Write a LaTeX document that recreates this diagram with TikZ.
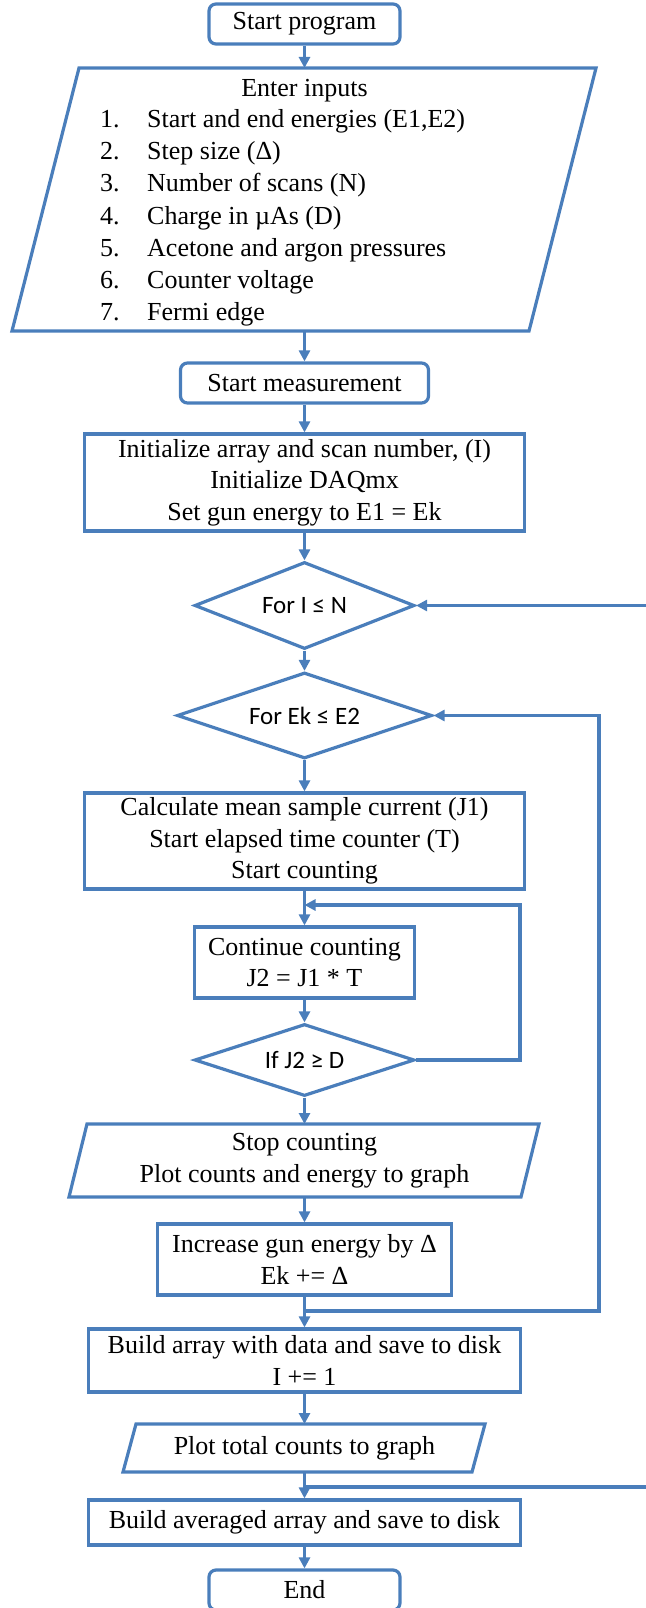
\documentclass[tikz,border=0pt]{standalone}
\usepackage{fontspec}
\setmainfont{Liberation Serif}
\newfontfamily\diafont{Carlito}
\usetikzlibrary{arrows.meta,shapes.geometric}
\definecolor{fcblue}{RGB}{74,126,187}
\begin{document}
\begin{tikzpicture}[x=1pt,y=-1pt,
  line/.style={draw=fcblue,line width=3.2pt},
  arr/.style={line,-{Triangle[length=11pt,width=11pt]}},
  box/.style={draw=fcblue,line width=3.2pt,rectangle,inner sep=0pt,align=center,font=\fontsize{26}{31.5}\selectfont},
  term/.style={box,rounded corners=7pt},
  dia/.style={draw=fcblue,line width=3.2pt,diamond,aspect=2.5,inner sep=0pt,font=\diafont\fontsize{25}{30}\selectfont},
  txt/.style={inner sep=0pt,align=center,font=\fontsize{26}{31.5}\selectfont},
  itm/.style={inner sep=0pt,anchor=base west,font=\fontsize{26}{31.5}\selectfont}]
\useasboundingbox (0,0) rectangle (645,1608);

% Start
\node[term,minimum width=191pt,minimum height=40pt] (start) at (304.5,24) {Start program};

% Enter inputs parallelogram
\draw[line] (79,68) -- (596,68) -- (529,331) -- (12,331) -- cycle;
\coordinate (inTop) at (304.5,68);
\coordinate (inBot) at (304.5,331);
\node[inner sep=0pt,anchor=base,font=\fontsize{26}{31.5}\selectfont] (inTitle) at (304.5,97) {Enter inputs};
\node[itm] (n1) at (100,128) {1.};
\node[itm] (t1) at (147,128) {Start and end energies (E1,E2)};
\node[itm] (n2) at (100,160) {2.};
\node[itm] (t2) at (147,160) {Step size (Δ)};
\node[itm] (n3) at (100,192) {3.};
\node[itm] (t3) at (147,192) {Number of scans (N)};
\node[itm] (n4) at (100,224) {4.};
\node[itm] (t4) at (147,224) {Charge in µAs (D)};
\node[itm] (n5) at (100,256) {5.};
\node[itm] (t5) at (147,256) {Acetone and argon pressures};
\node[itm] (n6) at (100,288) {6.};
\node[itm] (t6) at (147,288) {Counter voltage};
\node[itm] (n7) at (100,320) {7.};
\node[itm] (t7) at (147,320) {Fermi edge};

\node[term,minimum width=248pt,minimum height=40pt] (meas) at (304.5,383) {Start measurement};
\node[box,minimum width=440pt,minimum height=97pt] (init) at (304.5,482.5) {Initialize array and scan number, (I)\\Initialize DAQmx\\Set gun energy to E1 = Ek};
\node[dia,minimum width=220pt,minimum height=87pt] (forI) at (304.5,605.5) {For I ≤ N};
\node[dia,minimum width=255pt,minimum height=86pt] (forE) at (304.5,715.5) {For Ek ≤ E2};
\node[box,minimum width=440pt,minimum height=96pt] (calc) at (304.5,841) {Calculate mean sample current (J1)\\Start elapsed time counter (T)\\Start counting};
\node[box,minimum width=220pt,minimum height=71pt] (cont) at (304.5,962.5) {Continue counting\\J2 = J1 * T};
\node[dia,minimum width=220pt,minimum height=72pt] (ifJ) at (304.5,1060) {If J2 ≥ D};

% Stop counting parallelogram
\draw[line] (87,1124) -- (539,1124) -- (521,1197) -- (69,1197) -- cycle;
\coordinate (stopTop) at (304.5,1124);
\coordinate (stopBot) at (304.5,1197);
\node[txt] (stopTxt) at (304.5,1160.5) {Stop counting\\Plot counts and energy to graph};

\node[box,minimum width=294pt,minimum height=71pt] (inc) at (304.5,1259.5) {Increase gun energy by Δ\\Ek += Δ};
\node[box,minimum width=432pt,minimum height=63pt] (build) at (304.5,1360.5) {Build array with data and save to disk\\I += 1};

% Plot total counts parallelogram
\draw[line] (136,1424) -- (485,1424) -- (472,1472) -- (123,1472) -- cycle;
\coordinate (plotTop) at (304.5,1424);
\coordinate (plotBot) at (304.5,1472);
\node[txt] (plotTxt) at (304.5,1448) {Plot total counts to graph};

\node[box,minimum width=432pt,minimum height=45pt] (avg) at (304.5,1522.5) {Build averaged array and save to disk};
\node[term,minimum width=191pt,minimum height=40pt] (end) at (304.5,1590) {End};

% main flow
\draw[arr] (start.south) -- (inTop);
\draw[arr] (inBot) -- (meas.north);
\draw[arr] (meas.south) -- (init.north);
\draw[arr] (init.south) -- (forI.north);
\draw[arr] (forI.south) -- (forE.north);
\draw[arr] (forE.south) -- (calc.north);
\draw[arr] (calc.south) -- (cont.north);
\draw[arr] (cont.south) -- (ifJ.north);
\draw[arr] (ifJ.south) -- (stopTop);
\draw[arr] (stopBot) -- (inc.north);
\draw[arr] (inc.south) -- (build.north);
\draw[arr] (build.south) -- (plotTop);
\draw[arr] (plotBot) -- (avg.north);
\draw[arr] (avg.south) -- (end.north);

% inner loop
\coordinate (jIn) at (304.5,905);
\coordinate (innerTR) at (520,905);
\draw[arr] (ifJ.east) -| (innerTR) -- (jIn);

% energy loop
\coordinate (eJ) at (304.5,1311);
\coordinate (eR) at (599,1311);
\draw[arr] (eJ) -- (eR) |- (forE.east);

% scan loop (runs off the right edge)
\coordinate (iJ) at (304.5,1487);
\coordinate (iEdge) at (650,1487);
\coordinate (iEdgeTop) at (650,605.5);
\draw[line] (iEdge) -- (iJ);
\draw[arr] (iEdgeTop) -- (forI.east);
\end{tikzpicture}
\end{document}
